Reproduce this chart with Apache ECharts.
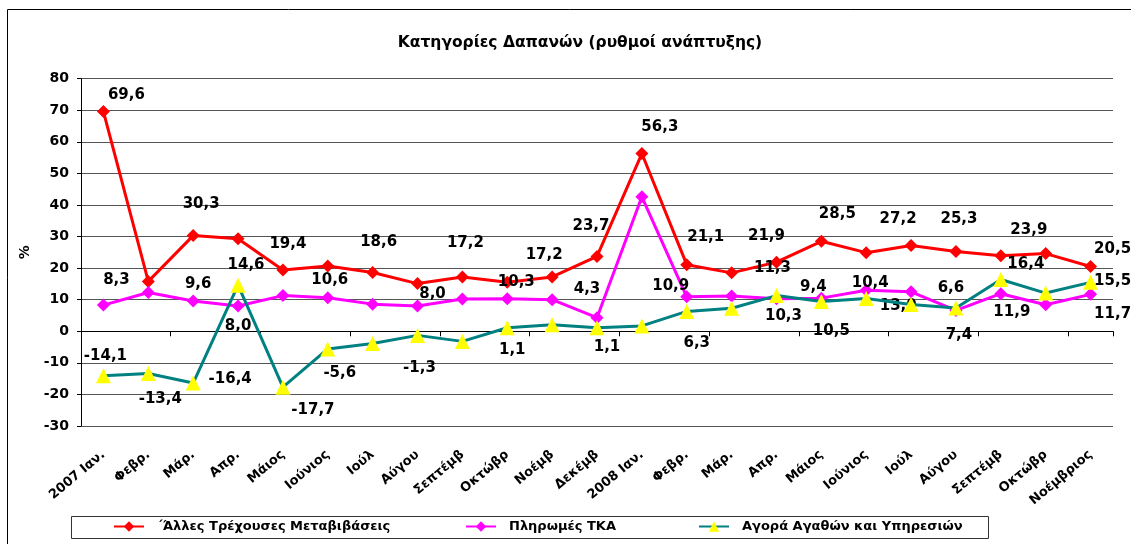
<!DOCTYPE html>
<html><head><meta charset="utf-8">
<script src="https://cdn.jsdelivr.net/npm/echarts@6/dist/echarts.min.js"></script>
<style>html,body{margin:0;padding:0;background:#fff}#c{width:1131px;height:544px}</style>
</head><body><div id="c"></div>
<script>
// ---------- DATA ----------
const categories = ['2007 Ιαν.','Φεβρ.','Μάρ.','Απρ.','Μάιος','Ιούνιος','Ιούλ','Αύγου','Σεπτέμβ','Οκτώβρ','Νοέμβ','Δεκέμβ',
  '2008 Ιαν.','Φεβρ.','Μάρ.','Απρ.','Μάιος','Ιούνιος','Ιούλ','Αύγου','Σεπτέμβ','Οκτώβρ','Νοέμβριος'];
const seriesNames = ['΄Άλλες Τρέχουσες Μεταβιβάσεις','Πληρωμές ΤΚΑ','Αγορά Αγαθών και Υπηρεσιών'];
const otherTransfers = [69.6,15.8,30.3,29.3,19.4,20.7,18.6,15.1,17.2,15.5,17.2,23.7,56.3,21.1,18.5,21.9,28.5,24.9,27.2,25.3,23.9,24.6,20.5];
const tkaPayments    = [8.3,12.3,9.6,8.0,11.3,10.6,8.6,8.0,10.2,10.3,10.0,4.3,42.6,10.9,11.2,10.3,10.5,13.0,12.5,6.6,11.9,8.4,11.7];
const goodsServices  = [-14.1,-13.4,-16.4,14.6,-17.7,-5.6,-3.9,-1.3,-3.2,1.1,2.1,1.1,1.7,6.3,7.3,11.3,9.4,10.4,8.5,7.4,16.4,12.1,15.5];
const yMin = -30, yMax = 80, yStep = 10;
const chartTitle = 'Κατηγορίες Δαπανών (ρυθμοί ανάπτυξης)';
const yName = '%';

// ---------- STYLE (label placement per point: [dx, dy] from the marker) ----------
const labelPlacement = [
  {0:[23,-16],2:[8,-32],4:[5,-26],6:[6,-30],8:[3,-34],10:[-8,-22],11:[-6,-30],12:[18,-26],13:[19,-28],15:[-10,-26],16:[16,-27],18:[-13,-26],19:[3,-32],20:[28,-26],22:[22,-17]},
  {0:[13,-25],2:[5,-17],3:[0,20],5:[2,-18],7:[15,-12],9:[9,-17],11:[-10,-29],13:[-16,-11],15:[7,17],16:[10,33],17:[32,16],19:[-5,-22],20:[11,18],22:[22,20]},
  {0:[2,-20],1:[12,26],2:[37,-4],3:[8,-20],4:[30,23],5:[12,24],7:[2,33],9:[5,22],11:[10,19],13:[10,32],15:[-4,-27],16:[-8,-14],17:[4,-15],19:[3,27],20:[25,-15],22:[22,-1]}
];
const FONT = 'DejaVu Sans';
const colors = ['#FF0000','#FF00FF','#008080'];
const symbols = ['diamond','diamond','triangle'];
const symbolColors = ['#FF0000','#FF00FF','#FFFF00'];
const symbolSizes = [13,13,15];
const values = [otherTransfers, tkaPayments, goodsServices];

const fmt = v => v.toFixed(1).replace('.', ',');

const series = values.map((arr, s) => ({
  name: seriesNames[s],
  type: 'line',
  xAxisIndex: 0,
  data: arr.map((v, i) => {
    const p = labelPlacement[s][i];
    return p ? {value: v, label: {show: true, offset: p}} : {value: v};
  }),
  symbol: symbols[s],
  symbolSize: symbolSizes[s],
  lineStyle: {color: colors[s], width: 3},
  itemStyle: {color: symbolColors[s], borderWidth: 0},
  label: {show: false, position: 'inside', formatter: p => fmt(p.value),
    color: '#000', fontFamily: FONT, fontWeight: 'bold', fontSize: 15},
  emphasis: {disabled: true},
  animation: false,
  z: 2 + s
}));

const legendLefts = [113, 465, 698];
const legends = seriesNames.map((n, s) => ({
  data: [n], left: legendLefts[s], top: 520, padding: 0,
  itemWidth: 30, itemHeight: 13,
  textStyle: {fontFamily: FONT, fontSize: 13, fontWeight: 'bold', color: '#000', padding: [0,0,0,8]},
  selectedMode: false
}));

const chart = echarts.init(document.getElementById('c'), null, {renderer: 'canvas'});
chart.setOption({
  backgroundColor: '#fff',
  animation: false,
  title: {text: chartTitle, left: 575, textAlign: 'center', top: 30,
    textStyle: {fontFamily: FONT, fontSize: 15.5, fontWeight: 'bold', color: '#000'}},
  grid: {left: 81, right: 18, top: 78.7, bottom: 118, containLabel: false},
  legend: legends,
  xAxis: [
    {type: 'category', data: categories, position: 'bottom', boundaryGap: true,
      axisLine: {show: false, onZero: false}, axisTick: {show: false},
      axisLabel: {rotate: 40, margin: 27, interval: 0, fontFamily: FONT, fontSize: 13, fontWeight: 'bold', color: '#000'},
      splitLine: {show: false}},
    {type: 'category', data: categories, position: 'top', boundaryGap: true,
      axisLine: {show: true, onZero: true, lineStyle: {color: '#000', width: 1}},
      axisTick: {show: true, inside: true, length: 5, lineStyle: {color: '#000'}},
      axisLabel: {show: false}, splitLine: {show: false}}
  ],
  yAxis: {type: 'value', min: yMin, max: yMax, interval: yStep,
    name: yName, nameLocation: 'middle', nameGap: 44, nameRotate: 90,
    nameTextStyle: {fontFamily: FONT, fontSize: 14, fontWeight: 'bold', color: '#000'},
    axisLine: {show: true, lineStyle: {color: '#000', width: 1}},
    axisTick: {show: true, length: 4, lineStyle: {color: '#000'}},
    axisLabel: {fontFamily: FONT, fontSize: 14, fontWeight: 'bold', color: '#000', margin: 12},
    splitLine: {show: true, lineStyle: {color: '#555', width: 1}}},
  graphic: [
    {type: 'rect', shape: {x: 7.5, y: 9.5, width: 1300, height: 700}, style: {fill: 'none', stroke: '#000', lineWidth: 1}, silent: true, z: -1},
    {type: 'rect', shape: {x: 71.5, y: 516.5, width: 917, height: 22}, style: {fill: 'none', stroke: '#333', lineWidth: 1}, silent: true, z: -1}
  ],
  series: series
});
</script>
</body></html>
